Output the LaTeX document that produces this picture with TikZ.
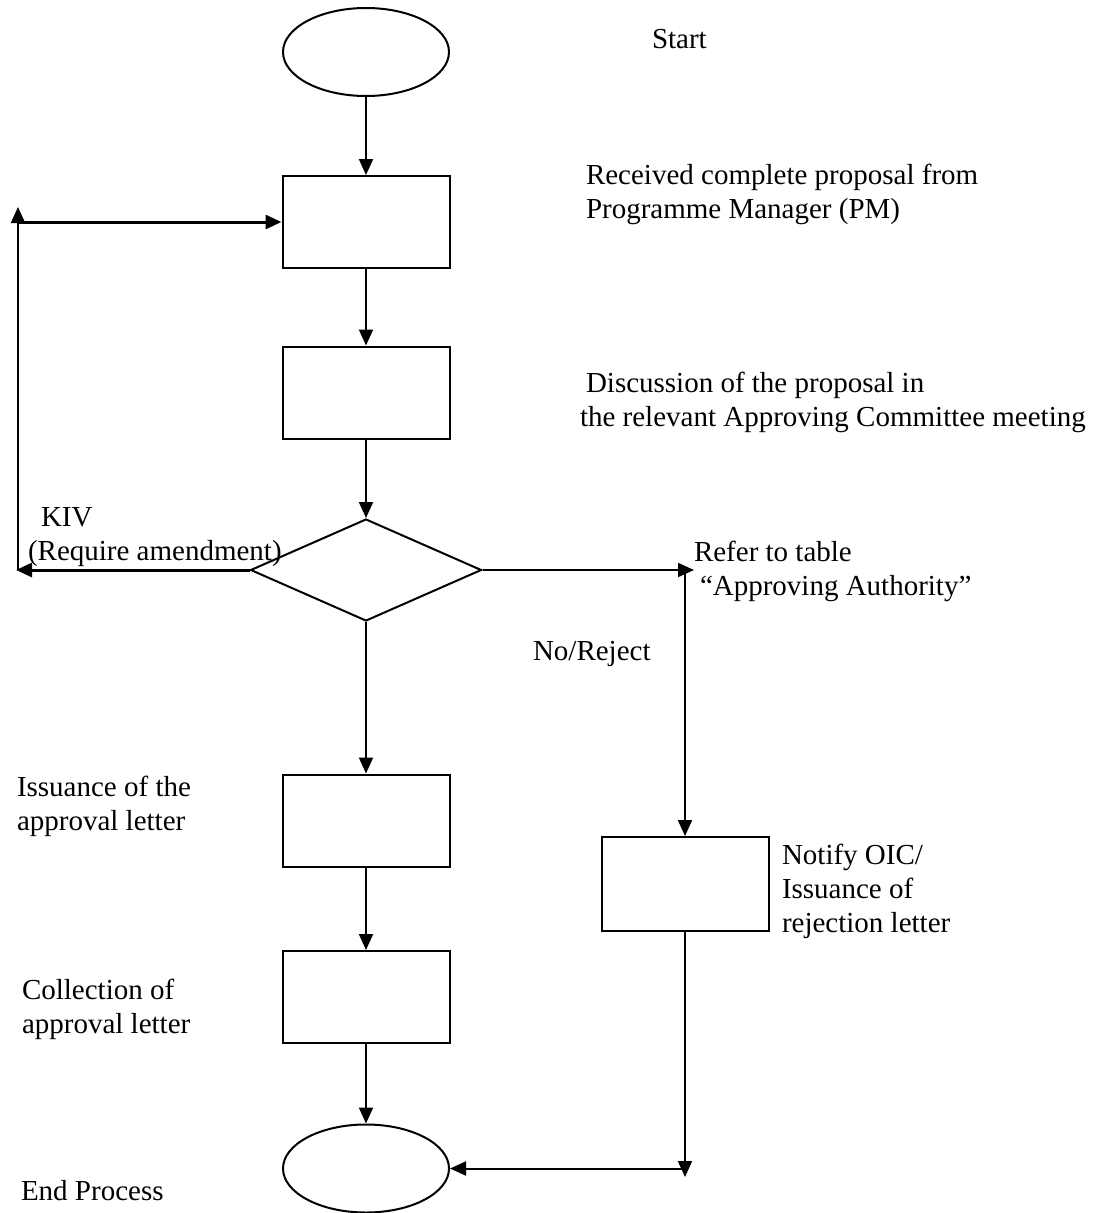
\documentclass[tikz,border=0pt]{standalone}
\usepackage{fontspec}
\setmainfont{Liberation Serif}
\usetikzlibrary{shapes.geometric,arrows.meta}

\begin{document}
\begin{tikzpicture}[x=1pt,y=-1pt,
  line width=2pt,
  arr/.style={-{Triangle[length=16pt,width=14pt]}},
  heavy/.style={line width=3pt},
  procbox/.style={draw,rectangle,inner sep=0pt,minimum width=167pt,minimum height=92pt},
  terminal/.style={draw,ellipse,inner sep=0pt,minimum width=166pt,minimum height=88pt},
  decision/.style={draw,diamond,aspect=2.26,inner sep=0pt,minimum width=231pt,minimum height=102pt},
  lbl/.style={anchor=base west,inner sep=0pt,align=left,
    font=\fontsize{29pt}{34pt}\selectfont}]

  \useasboundingbox (0,0) rectangle (1111,1213);

  % main column of shapes
  \node[terminal] (start)  at (366,52)    {};
  \node[procbox]  (recv)   at (366,222)   {};
  \node[procbox]  (disc)   at (366,392.5) {};
  \node[decision] (dec)    at (366,570)   {};
  \node[procbox]  (issue)  at (366,820.5) {};
  \node[procbox]  (collect) at (366,997)  {};
  \node[terminal] (finish) at (366,1168.5) {};

  % rejection branch
  \node[procbox,minimum height=94pt] (notify) at (685,884) {};

  % labels (anchored at the baseline of their last line)
  \node[lbl] (tStart)   at (651,48)  {Start};
  \node[lbl] (tRecv)    at (585,218) {Received complete proposal from\\Programme Manager (PM)};
  \node[lbl] (tDisc)    at (579,426) {\hspace*{6pt}Discussion of the proposal in\\the relevant Approving Committee meeting};
  \node[lbl] (tKiv)     at (27,560)  {\hspace*{13pt}KIV\\(Require amendment)};
  \node[lbl] (tRefer)   at (693,595) {Refer to table\\\hspace*{6pt}“Approving Authority”};
  \node[lbl] (tReject)  at (532,660) {No/Reject};
  \node[lbl] (tIssue)   at (16,830)  {Issuance of the\\approval letter};
  \node[lbl] (tCollect) at (21,1033) {Collection of\\approval letter};
  \node[lbl] (tNotify)  at (781,932) {Notify OIC/\\Issuance of\\rejection letter};
  \node[lbl] (tEnd)     at (20,1200) {End Process};

  % free ends and corners of the side lines
  \coordinate (kivend)  at (16,570);
  \coordinate (loopbot) at (18,570);
  \coordinate (looptop) at (18,207);
  \coordinate (loopjoin) at (18,222);
  \coordinate (refer)   at (694,570);
  \coordinate (rtop)    at (685,570);
  \coordinate (rbot)    at (685,1177);
  \coordinate (rjoin)   at (685,1168.5);

  % main flow
  \draw[arr] (start.south) -- (recv.north);
  \draw[arr] (recv.south) -- (disc.north);
  \draw[arr] (disc.south) -- (dec.north);
  \draw[arr] (dec.south) -- (issue.north);
  \draw[arr] (issue.south) -- (collect.north);
  \draw[arr] (collect.south) -- (finish.north);

  % amendment loop back to the first step
  \draw[arr,heavy] (dec.west) -- (kivend);
  \draw[arr] (loopbot) -- (looptop);
  \draw[arr,heavy] (loopjoin) -- (recv.west);

  % rejection branch
  \draw[arr] (dec.east) -- (refer);
  \draw[arr] (rtop) -- (notify.north);
  \draw[arr] (notify.south) -- (rbot);
  \draw[arr] (rjoin) -- (finish.east);
\end{tikzpicture}
\end{document}
